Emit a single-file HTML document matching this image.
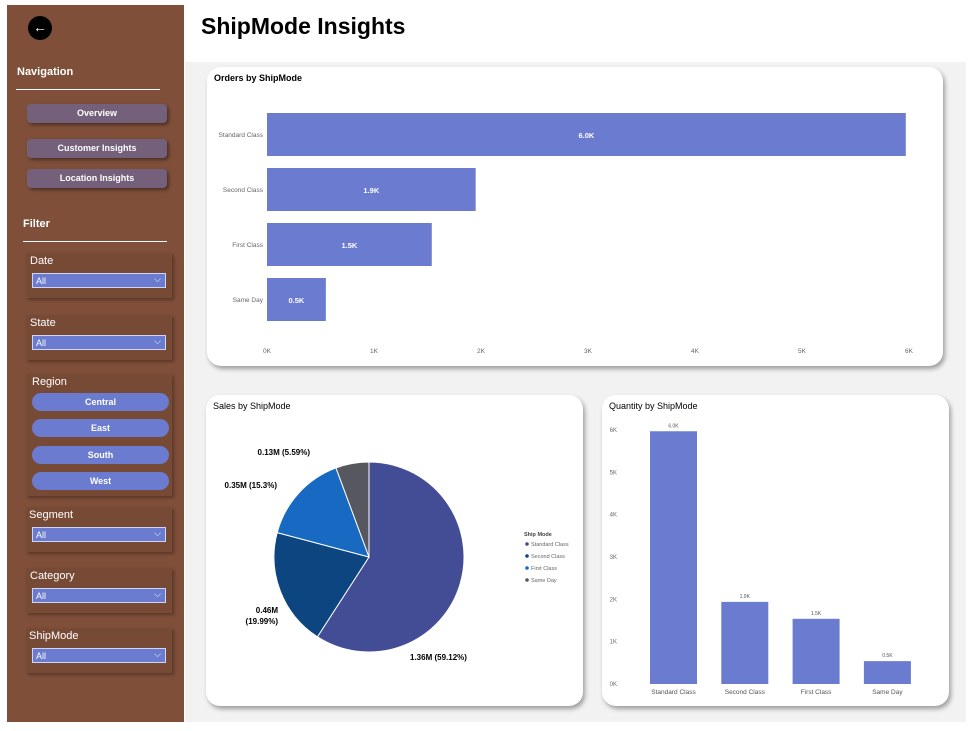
<!DOCTYPE html>
<html><head><meta charset="utf-8"><style>
body{margin:0;width:971px;height:731px;background:#fff;font-family:"Liberation Sans",sans-serif;position:relative;overflow:hidden}
.abs{position:absolute}
.side{left:7px;top:5px;width:177px;height:717px;background:#7f4f3a}
.main{left:185px;top:62px;width:781px;height:660px;background:#f2f2f2}
.card{background:#fff;border-radius:14px;box-shadow:2px 3px 5px rgba(0,0,0,.35)}
.nav{left:27px;width:140px;height:19px;background:#74607a;border-radius:4px;box-shadow:2px 2px 3px rgba(0,0,0,.4);color:#fff;font-size:9px;font-weight:bold;line-height:19px;text-align:center}
.lbl{color:#fff;font-size:11px}
.dd{left:32px;width:134px;height:15px;background:#6b7bcf;border:1px solid #cfd6f5;color:#fff;font-size:9px;line-height:15px;padding-left:3px;box-sizing:border-box}
.dd:after{content:"⌵";position:absolute;right:4px;top:-2px;font-size:9px}
.fbox{left:26px;width:146px;background:rgba(0,0,0,.06);box-shadow:2px 2px 3px rgba(0,0,0,.3)}
.pill{left:32px;width:137px;height:18px;border-radius:9px;background:#6b7bcf;color:#fff;font-size:9px;font-weight:bold;text-align:center;line-height:18px}
svg text{font-family:"Liberation Sans",sans-serif}
</style></head><body>
<div class="abs side"></div>
<div class="abs main"></div>
<div class="abs" style="left:28px;top:16px;width:24px;height:24px;border-radius:50%;background:#000;color:#fff;font-size:14px;text-align:center;line-height:23px">←</div>
<div class="abs" style="left:201px;top:13px;font-size:23px;font-weight:bold;color:#000">ShipMode Insights</div>
<div class="abs" style="left:17px;top:66px;color:#fff;font-size:11px;font-weight:bold">Navigation</div>
<div class="abs" style="left:16px;top:89px;width:144px;height:1px;background:#fff"></div>
<div class="abs nav" style="top:104px">Overview</div>
<div class="abs nav" style="top:139px">Customer Insights</div>
<div class="abs nav" style="top:169px">Location Insights</div>
<div class="abs" style="left:23px;top:218px;color:#fff;font-size:11px;font-weight:bold">Filter</div>
<div class="abs" style="left:23px;top:241px;width:144px;height:1px;background:#fff"></div>

<div class="abs fbox" style="top:253px;height:45px"></div>
<div class="abs lbl" style="left:30px;top:255px">Date</div>
<div class="abs dd" style="top:273px">All</div>
<div class="abs fbox" style="top:315px;height:45px"></div>
<div class="abs lbl" style="left:30px;top:317px">State</div>
<div class="abs dd" style="top:335px">All</div>
<div class="abs fbox" style="top:374px;height:122px"></div>
<div class="abs lbl" style="left:32px;top:376px">Region</div>
<div class="abs pill" style="top:393px">Central</div>
<div class="abs pill" style="top:419px">East</div>
<div class="abs pill" style="top:446px">South</div>
<div class="abs pill" style="top:472px">West</div>
<div class="abs fbox" style="top:507px;height:45px"></div>
<div class="abs lbl" style="left:29px;top:509px">Segment</div>
<div class="abs dd" style="top:527px">All</div>
<div class="abs fbox" style="top:568px;height:45px"></div>
<div class="abs lbl" style="left:30px;top:570px">Category</div>
<div class="abs dd" style="top:588px">All</div>
<div class="abs fbox" style="top:628px;height:45px"></div>
<div class="abs lbl" style="left:29px;top:630px">ShipMode</div>
<div class="abs dd" style="top:648px">All</div>

<div class="abs card" style="left:207px;top:67px;width:736px;height:299px"></div>
<div class="abs card" style="left:206px;top:395px;width:377px;height:311px"></div>
<div class="abs card" style="left:602px;top:395px;width:347px;height:311px"></div>

<svg class="abs" style="left:0;top:0" width="971" height="731" id="chart">
<text x="214" y="81" font-size="9" font-weight="bold">Orders by ShipMode</text>
<text x="213" y="409" font-size="9">Sales by ShipMode</text>
<text x="609" y="409" font-size="9">Quantity by ShipMode</text>
</svg>
<script>
const cats=["Standard Class","Second Class","First Class","Same Day"];
const orders=[5.97,1.95,1.54,0.55];
const orderLabels=["6.0K","1.9K","1.5K","0.5K"];
const xTicks=[0,1,2,3,4,5,6];
const salesVals=[1.36,0.46,0.35,0.13];
const salesLabels=["1.36M (59.12%)","0.46M (19.99%)","0.35M (15.3%)","0.13M (5.59%)"];
const qty=[5.97,1.94,1.54,0.54];
const qtyLabels=["6.0K","1.9K","1.5K","0.5K"];
const yTicks=[0,1,2,3,4,5,6];
const pieColors=["#434d95","#0d4581","#1769c2","#575760"];
const svg=document.getElementById('chart');
const NS="http://www.w3.org/2000/svg";
function mk(t,a,txt){const e=document.createElementNS(NS,t);for(const k in a)e.setAttribute(k,a[k]);if(txt!=null)e.textContent=txt;svg.appendChild(e);return e;}
const xs=v=>267+v*(909-267)/6;
const band=i=>113+i*55;
xTicks.forEach(t=>{const e=mk('text',{x:xs(t),y:353,'font-size':6.5,fill:'#666','text-anchor':'middle'},t+'K');

});
cats.forEach((c,i)=>{
const y=band(i);
const l=mk('text',{x:263,y:y+24,'font-size':6.5,fill:'#666','text-anchor':'end'},c);


const r=mk('rect',{x:xs(0),y:y,width:xs(orders[i])-xs(0),height:43,fill:'#6b7bcf'});


const v=mk('text',{x:(xs(0)+xs(orders[i]))/2,y:y+25,'font-size':7.5,'font-weight':'bold',fill:'#fff','text-anchor':'middle'},orderLabels[i]);


});
const cx=369,cy=557,R=95;const tot=salesVals.reduce((a,b)=>a+b,0);
let a0=-Math.PI/2;
const lblPos=[[410,660,'start'],[278,622,'end'],[277,488,'end'],[310,455,'end']];
salesVals.forEach((v,i)=>{
const a1=a0+v/tot*2*Math.PI;
const p=(a)=>[cx+R*Math.cos(a),cy+R*Math.sin(a)];
const [x0,y0]=p(a0),[x1,y1]=p(a1);
const s=mk('path',{d:`M${cx},${cy}L${x0},${y0}A${R},${R} 0 ${a1-a0>Math.PI?1:0} 1 ${x1},${y1}Z`,fill:pieColors[i],stroke:'#fff','stroke-width':1});


const lp=lblPos[i];
if(i==1){
const t1=mk('text',{x:lp[0],y:lp[1]-9,'font-size':8,'font-weight':'bold','text-anchor':'end'},salesLabels[i].split(' ')[0]);


const t2=mk('text',{x:lp[0],y:lp[1]+2,'font-size':8,'font-weight':'bold','text-anchor':'end'},salesLabels[i].split(' ')[1]);


}else{
const t=mk('text',{x:lp[0],y:lp[1],'font-size':8,'font-weight':'bold','text-anchor':lp[2]},salesLabels[i]);

}
a0=a1;});
const lt=mk('text',{x:524,y:536,'font-size':5.5,'font-weight':'bold',fill:'#444'},'Ship Mode');


cats.forEach((c,i)=>{
const d=mk('circle',{cx:527,cy:544+i*12,r:1.8,fill:pieColors[i]});


const t=mk('text',{x:531,y:546+i*12,'font-size':5.5,fill:'#666'},c);

});
const ys=v=>684-v*(684-430)/6;
yTicks.forEach(t=>{const e=mk('text',{x:617,y:ys(t)+2,'font-size':6,fill:'#666','text-anchor':'end'},t+'K');

});
cats.forEach((c,i)=>{
const x=650+i*71.3;
const r=mk('rect',{x:x,y:ys(qty[i]),width:47,height:ys(0)-ys(qty[i]),fill:'#6b7bcf'});


const v=mk('text',{x:x+23.5,y:ys(qty[i])-4,'font-size':5,fill:'#555','text-anchor':'middle'},qtyLabels[i]);


const l=mk('text',{x:x+23.5,y:694,'font-size':6.5,fill:'#555','text-anchor':'middle'},c);

});
</script>
</body></html>
